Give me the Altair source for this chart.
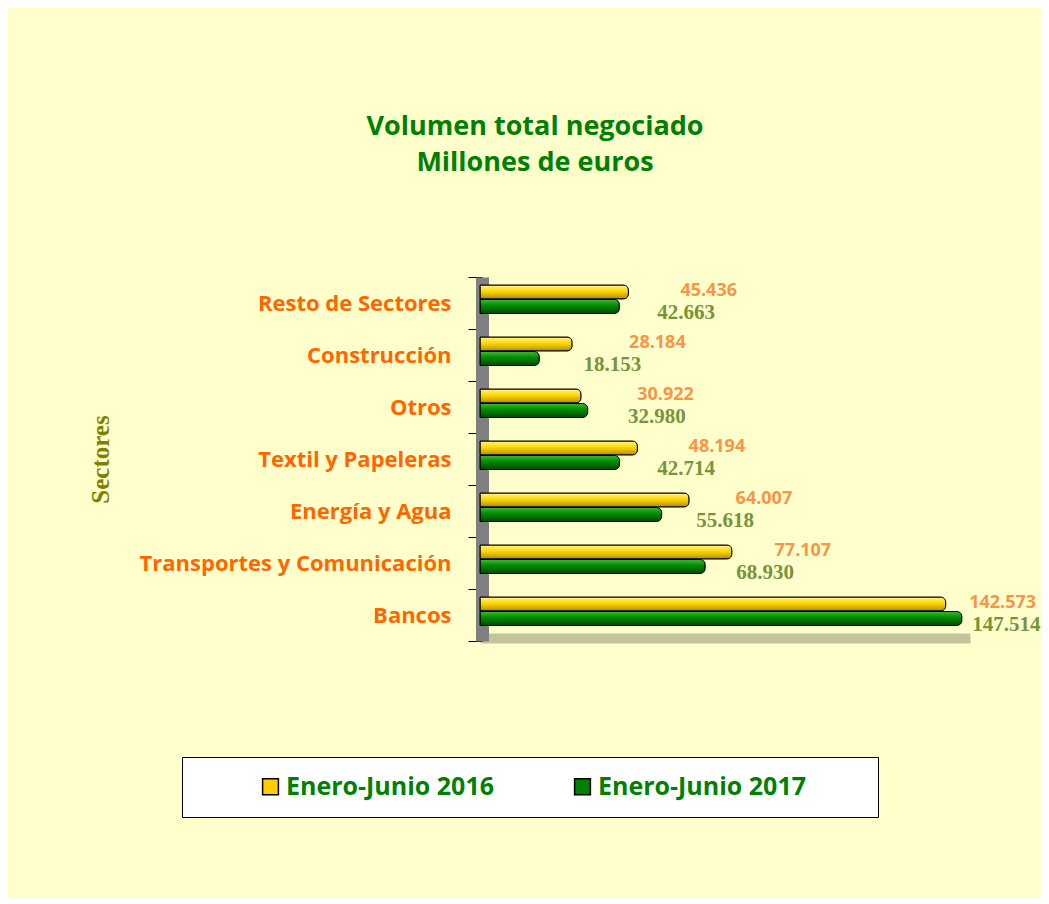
import altair as alt
import pandas as pd

categories = ["Resto de Sectores", "Construcción", "Otros", "Textil y Papeleras",
              "Energía y Agua", "Transportes y Comunicación", "Bancos"]
v2016 = [45.436, 28.184, 30.922, 48.194, 64.007, 77.107, 142.573]
v2017 = [42.663, 18.153, 32.980, 42.714, 55.618, 68.930, 147.514]
series = ["Enero-Junio 2016", "Enero-Junio 2017"]

df16 = pd.DataFrame({"sector": categories, "valor": v2016, "serie": series[0]})
df17 = pd.DataFrame({"sector": categories, "valor": v2017, "serie": series[1]})
df = pd.concat([df16, df17], ignore_index=True)

yellow_grad = alt.Gradient(
    gradient="linear", x1=0, x2=0, y1=0, y2=1,
    stops=[alt.GradientStop(color="#FFF48A", offset=0),
           alt.GradientStop(color="#FFD800", offset=0.45),
           alt.GradientStop(color="#B08C00", offset=1)])
green_grad = alt.Gradient(
    gradient="linear", x1=0, x2=0, y1=0, y2=1,
    stops=[alt.GradientStop(color="#3DB83D", offset=0),
           alt.GradientStop(color="#008A00", offset=0.45),
           alt.GradientStop(color="#004800", offset=1)])

x_enc = alt.X("valor:Q", scale=alt.Scale(domain=[0, 150], nice=False),
              axis=alt.Axis(labels=False, ticks=False, grid=False, title=None,
                            domainColor="#C4C49C", domainWidth=10, offset=-3, zindex=0))
y_sort = alt.Y("sector:N", sort=categories)
y_enc = alt.Y("sector:N", sort=categories,
              scale=alt.Scale(paddingInner=0, paddingOuter=0),
              axis=alt.Axis(title="Sectores", titleFont="Liberation Serif", titleFontSize=25,
                            titleFontWeight="bold", titleColor="#808000", titleAngle=-90,
                            titleX=-382, titleY=182, titleAlign="center", titleBaseline="middle",
                            labelFont="Open Sans", labelFontSize=22, labelFontWeight="bold",
                            labelColor="#FF6600", labelPadding=17, labelLimit=400,
                            tickBand="extent", tickSize=14, tickColor="black", tickWidth=1,
                            domainColor="#808080", domainWidth=13, offset=-2, zindex=0))

base = alt.Chart(df)

bars16 = base.transform_filter(alt.datum.serie == series[0]).mark_bar(
    color=yellow_grad, stroke="black", strokeWidth=1, height=14, yOffset=-11,
    cornerRadiusEnd=5).encode(x=x_enc, y=y_enc)
bars17 = base.transform_filter(alt.datum.serie == series[1]).mark_bar(
    color=green_grad, stroke="black", strokeWidth=1, height=14, yOffset=3.5,
    cornerRadiusEnd=5).encode(x="valor:Q", y=y_sort)

# data labels follow the reference's placement (slightly compressed relative to the bar ends)
lab16 = base.transform_filter(alt.datum.serie == series[0]).transform_calculate(
    pos="20 + 0.91 * datum.valor").mark_text(
    align="left", baseline="middle", yOffset=-12, font="Open Sans", fontSize=18,
    fontWeight="bold", color="#F79646").encode(
    x="pos:Q", y=y_sort, text=alt.Text("valor:Q", format=".3f"))
lab17 = base.transform_filter(alt.datum.serie == series[1]).transform_calculate(
    pos="15 + 0.92 * datum.valor").mark_text(
    align="left", baseline="middle", yOffset=10, font="Liberation Serif", fontSize=21,
    fontWeight="bold", color="#77933C").encode(
    x="pos:Q", y=y_sort, text=alt.Text("valor:Q", format=".3f"))

legend_layer = base.mark_square(opacity=0).encode(
    x="valor:Q", y=y_sort,
    color=alt.Color("serie:N", scale=alt.Scale(domain=series, range=["#FFCC00", "#008000"]),
                    legend=alt.Legend(orient="none", legendX=-298, legendY=480,
                                      direction="horizontal", title="\u00a0",
                                      titleOrient="right", titlePadding=55, titleFontSize=10,
                                      fillColor="white", strokeColor="black", padding=17,
                                      symbolType="square", symbolSize=250,
                                      symbolStrokeColor="black", symbolStrokeWidth=1.5,
                                      symbolOpacity=1, symbolOffset=59,
                                      labelFont="Open Sans", labelFontSize=25, labelFontWeight="bold",
                                      labelColor="#008000", labelOffset=3, columnPadding=17,
                                      labelLimit=400)))

chart = alt.layer(bars16, bars17, lab16, lab17, legend_layer).properties(
    width=490, height=364,
    title=alt.TitleParams(["Volumen total negociado", "Millones de euros"],
                          font="Open Sans", fontSize=27, fontWeight="bold", color="#008000",
                          anchor="middle", frame="group", dx=-190, offset=89, lineHeight=36),
    autosize=alt.AutoSizeParams(type="none"),
    padding={"left": 472, "top": 269, "right": 71, "bottom": 257},
    background="#FFFFCC",
).configure_view(stroke=None)

chart.save("out.html", embed_options={"renderer": "svg", "actions": False})
